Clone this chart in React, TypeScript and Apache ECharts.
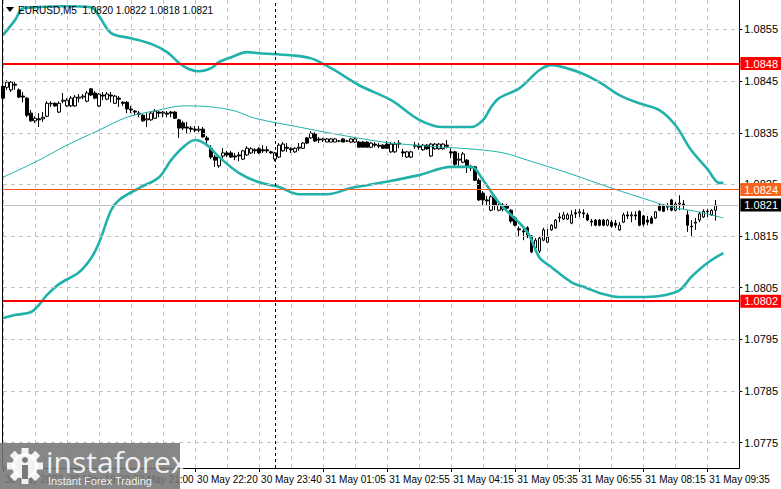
import React, { useEffect, useRef } from "react";
import * as echarts from "echarts";

// ---------- data ----------
const symbolTitle = "EURUSD,M5";
const lastBarOHLC = ["1.0820", "1.0822", "1.0818", "1.0821"];

const opens = [
  1.08440,1.08438,1.08433,1.08444,1.08433,1.08421,1.08417,1.08388,1.08373,1.08377,
  1.08377,1.08382,1.08406,1.08407,1.08390,1.08411,1.08402,1.08402,1.08402,1.08417,
  1.08419,1.08411,1.08435,1.08427,1.08402,1.08423,1.08415,1.08423,1.08407,1.08417,
  1.08409,1.08409,1.08396,1.08392,1.08388,1.08384,1.08375,1.08375,1.08378,1.08390,
  1.08388,1.08388,1.08390,1.08390,1.08375,1.08369,1.08361,1.08359,1.08357,1.08355,
  1.08357,1.08340,1.08320,1.08303,1.08286,1.08305,1.08311,1.08311,1.08305,1.08307,
  1.08299,1.08307,1.08311,1.08317,1.08319,1.08317,1.08317,1.08313,1.08299,1.08303,
  1.08315,1.08322,1.08319,1.08313,1.08320,1.08320,1.08340,1.08340,1.08348,1.08338,
  1.08336,1.08332,1.08332,1.08332,1.08334,1.08338,1.08334,1.08332,1.08332,1.08332,
  1.08332,1.08332,1.08322,1.08328,1.08326,1.08326,1.08328,1.08313,1.08313,1.08330,
  1.08313,1.08303,1.08303,1.08324,1.08324,1.08317,1.08326,1.08305,1.08319,1.08319,
  1.08319,1.08326,1.08313,1.08313,1.08297,1.08293,1.08297,1.08284,1.08284,1.08258,
  1.08233,1.08220,1.08200,1.08224,1.08200,1.08202,1.08208,1.08200,1.08185,1.08164,
  1.08160,1.08166,1.08150,1.08127,1.08121,1.08142,1.08138,1.08162,1.08166,1.08185,
  1.08183,1.08183,1.08175,1.08195,1.08195,1.08195,1.08191,1.08179,1.08181,1.08181,
  1.08181,1.08171,1.08177,1.08175,1.08162,1.08177,1.08191,1.08189,1.08191,1.08198,
  1.08189,1.08181,1.08185,1.08185,1.08210,1.08210,1.08206,1.08220,1.08200,1.08212,
  1.08212,1.08191,1.08169,1.08175,1.08181,1.08187,1.08197,1.08191,1.08200,
];
const closes = [
  1.08417,1.08448,1.08448,1.08442,1.08419,1.08419,1.08384,1.08373,1.08378,1.08375,
  1.08380,1.08407,1.08407,1.08402,1.08407,1.08413,1.08413,1.08417,1.08419,1.08419,
  1.08421,1.08427,1.08423,1.08417,1.08425,1.08421,1.08425,1.08421,1.08421,1.08415,
  1.08407,1.08396,1.08394,1.08390,1.08386,1.08373,1.08377,1.08388,1.08392,1.08388,
  1.08390,1.08386,1.08388,1.08378,1.08359,1.08359,1.08359,1.08357,1.08355,1.08357,
  1.08342,1.08336,1.08303,1.08297,1.08303,1.08311,1.08307,1.08303,1.08303,1.08305,
  1.08315,1.08320,1.08319,1.08315,1.08311,1.08315,1.08315,1.08311,1.08311,1.08326,
  1.08328,1.08320,1.08317,1.08320,1.08322,1.08330,1.08330,1.08349,1.08334,1.08336,
  1.08338,1.08338,1.08338,1.08338,1.08334,1.08332,1.08334,1.08338,1.08338,1.08322,
  1.08322,1.08322,1.08330,1.08326,1.08324,1.08320,1.08320,1.08328,1.08328,1.08328,
  1.08311,1.08313,1.08313,1.08326,1.08322,1.08326,1.08319,1.08328,1.08328,1.08328,
  1.08328,1.08324,1.08311,1.08289,1.08299,1.08309,1.08284,1.08282,1.08258,1.08220,
  1.08220,1.08218,1.08226,1.08210,1.08210,1.08210,1.08204,1.08179,1.08171,1.08162,
  1.08158,1.08152,1.08119,1.08142,1.08146,1.08162,1.08148,1.08171,1.08181,1.08187,
  1.08191,1.08191,1.08191,1.08193,1.08197,1.08193,1.08181,1.08177,1.08171,1.08171,
  1.08171,1.08181,1.08169,1.08171,1.08171,1.08191,1.08189,1.08191,1.08189,1.08171,
  1.08173,1.08177,1.08175,1.08197,1.08200,1.08198,1.08208,1.08200,1.08212,1.08214,
  1.08210,1.08171,1.08168,1.08177,1.08193,1.08198,1.08198,1.08200,1.08210,
];
const lows = [
  1.08400,1.08433,1.08429,1.08433,1.08417,1.08409,1.08380,1.08371,1.08369,1.08361,
  1.08371,1.08380,1.08400,1.08400,1.08388,1.08407,1.08400,1.08400,1.08400,1.08409,
  1.08415,1.08409,1.08421,1.08415,1.08400,1.08413,1.08413,1.08409,1.08406,1.08400,
  1.08402,1.08388,1.08388,1.08384,1.08380,1.08371,1.08361,1.08373,1.08377,1.08380,
  1.08380,1.08380,1.08380,1.08377,1.08340,1.08355,1.08349,1.08351,1.08351,1.08351,
  1.08340,1.08328,1.08299,1.08284,1.08282,1.08301,1.08303,1.08301,1.08297,1.08295,
  1.08297,1.08305,1.08309,1.08309,1.08309,1.08311,1.08311,1.08309,1.08295,1.08301,
  1.08313,1.08313,1.08311,1.08311,1.08315,1.08319,1.08328,1.08338,1.08332,1.08330,
  1.08332,1.08332,1.08332,1.08332,1.08332,1.08332,1.08332,1.08330,1.08330,1.08322,
  1.08322,1.08322,1.08320,1.08322,1.08320,1.08319,1.08319,1.08311,1.08311,1.08320,
  1.08303,1.08301,1.08301,1.08319,1.08317,1.08315,1.08317,1.08303,1.08317,1.08317,
  1.08317,1.08320,1.08301,1.08286,1.08284,1.08291,1.08272,1.08276,1.08257,1.08218,
  1.08210,1.08208,1.08198,1.08200,1.08198,1.08198,1.08197,1.08175,1.08169,1.08148,
  1.08142,1.08146,1.08117,1.08123,1.08117,1.08140,1.08137,1.08160,1.08164,1.08177,
  1.08181,1.08181,1.08173,1.08185,1.08187,1.08185,1.08179,1.08169,1.08169,1.08169,
  1.08169,1.08169,1.08166,1.08166,1.08160,1.08175,1.08183,1.08177,1.08181,1.08169,
  1.08169,1.08171,1.08173,1.08183,1.08198,1.08197,1.08200,1.08198,1.08198,1.08200,
  1.08202,1.08158,1.08148,1.08162,1.08177,1.08185,1.08187,1.08189,1.08180,
];
const highs = [
  1.08446,1.08452,1.08450,1.08450,1.08436,1.08429,1.08419,1.08394,1.08382,1.08388,
  1.08390,1.08411,1.08411,1.08409,1.08411,1.08427,1.08417,1.08421,1.08423,1.08425,
  1.08425,1.08431,1.08436,1.08431,1.08427,1.08429,1.08429,1.08429,1.08423,1.08421,
  1.08411,1.08411,1.08402,1.08394,1.08392,1.08386,1.08388,1.08392,1.08396,1.08392,
  1.08392,1.08392,1.08392,1.08392,1.08377,1.08373,1.08371,1.08363,1.08363,1.08363,
  1.08361,1.08344,1.08326,1.08307,1.08307,1.08320,1.08315,1.08315,1.08311,1.08313,
  1.08317,1.08324,1.08322,1.08320,1.08322,1.08326,1.08324,1.08315,1.08313,1.08330,
  1.08332,1.08330,1.08322,1.08322,1.08330,1.08332,1.08342,1.08353,1.08351,1.08342,
  1.08340,1.08340,1.08340,1.08340,1.08336,1.08340,1.08336,1.08340,1.08340,1.08334,
  1.08334,1.08334,1.08332,1.08332,1.08330,1.08328,1.08334,1.08332,1.08332,1.08336,
  1.08319,1.08315,1.08315,1.08332,1.08330,1.08328,1.08328,1.08330,1.08330,1.08330,
  1.08330,1.08336,1.08320,1.08315,1.08311,1.08313,1.08299,1.08288,1.08286,1.08262,
  1.08237,1.08228,1.08229,1.08226,1.08214,1.08214,1.08212,1.08202,1.08189,1.08169,
  1.08168,1.08169,1.08152,1.08146,1.08150,1.08166,1.08164,1.08173,1.08183,1.08195,
  1.08197,1.08195,1.08200,1.08202,1.08202,1.08202,1.08195,1.08183,1.08183,1.08183,
  1.08183,1.08183,1.08181,1.08181,1.08177,1.08195,1.08198,1.08197,1.08198,1.08200,
  1.08191,1.08189,1.08189,1.08198,1.08212,1.08212,1.08214,1.08222,1.08216,1.08229,
  1.08220,1.08200,1.08181,1.08185,1.08197,1.08202,1.08202,1.08202,1.08220,
];

// Bollinger bands (thick) and moving average (thin), sampled as [bar index, price]
const upperBand: [number, number][] = [
  [0,1.08539],[3,1.08568],[5,1.08591],[8,1.08593],[15,1.08595],[22,1.08593],[24,1.08576],
  [27,1.08543],[32,1.08533],[37,1.08522],[41,1.08506],[44,1.08485],[46,1.08475],[49,1.08469],
  [52,1.08475],[54,1.08487],[57,1.08496],[61,1.08506],[64,1.08504],[72,1.08500],[77,1.08494],
  [82,1.08475],[89,1.08442],[97,1.08413],[104,1.08375],[110,1.08361],[117,1.08361],[120,1.08375],
  [122,1.08400],[124,1.08417],[129,1.08436],[134,1.08471],[137,1.08481],[139,1.08479],[144,1.08467],
  [149,1.08448],[154,1.08423],[159,1.08407],[164,1.08394],[168,1.08365],[172,1.08316],[176,1.08280],
  [179,1.08253],[180,1.08253],
];
const lowerBand: [number, number][] = [
  [0,1.07991],[3,1.07997],[7,1.08003],[9,1.08017],[11,1.08036],[14,1.08057],[19,1.08080],
  [22,1.08107],[24,1.08137],[27,1.08200],[29,1.08220],[34,1.08243],[39,1.08264],[42,1.08297],
  [45,1.08322],[48,1.08336],[51,1.08326],[54,1.08303],[59,1.08272],[64,1.08254],[69,1.08245],
  [74,1.08231],[81,1.08231],[87,1.08243],[95,1.08254],[104,1.08268],[112,1.08284],[117,1.08284],
  [120,1.08258],[124,1.08214],[131,1.08158],[134,1.08109],[137,1.08090],[142,1.08061],[146,1.08049],
  [149,1.08040],[154,1.08032],[159,1.08032],[164,1.08034],[169,1.08045],[172,1.08071],[176,1.08098],
  [180,1.08117],
];
const movingAverage: [number, number][] = [
  [0,1.08264],[8,1.08293],[16,1.08326],[24,1.08355],[31,1.08380],[39,1.08394],[45,1.08402],
  [52,1.08400],[58,1.08392],[63,1.08378],[74,1.08361],[82,1.08349],[95,1.08332],[103,1.08326],
  [110,1.08322],[118,1.08318],[125,1.08311],[131,1.08297],[142,1.08270],[152,1.08243],[162,1.08218],
  [167,1.08206],[173,1.08198],[180,1.08185],
];

const timeTickLabels = [
  "30 May 2023", "30 May 19:40", "30 May 21:00", "30 May 22:20", "30 May 23:40",
  "31 May 01:05", "31 May 02:55", "31 May 04:15", "31 May 05:35", "31 May 06:55",
  "31 May 08:15", "31 May 09:35",
];
const priceTicks = [1.0775, 1.0785, 1.0795, 1.0805, 1.0815, 1.0825, 1.0835, 1.0845, 1.0855];

const levelPrices = [1.08484, 1.08024, 1.0824, 1.0821];
const levelLabels = ["1.0848", "1.0802", "1.0824", "1.0821"];
const daySeparatorIndex = 68;

// ---------- layout constants ----------
const SLOT_COUNT = 185; // bar slots across the plot (incl. empty right margin)
const LABEL_EVERY = 16;
const GRID_EVERY = 8;
const FONT = "'Liberation Sans', Arial, sans-serif";

export default function App() {
  const ref = useRef<HTMLDivElement>(null);

  useEffect(() => {
    if (!ref.current) return;
    const chart = echarts.init(ref.current, undefined, { renderer: "svg" });

    const categories = Array.from({ length: SLOT_COUNT }, (_, i) => String(i));
    const candles = opens.map((o, i) => [o, closes[i], lows[i], highs[i]]);

    const levelStyles = [
      { line: { color: "#ff0000", width: 2, type: "solid" }, bg: "#ff0000" },
      { line: { color: "#ff0000", width: 2, type: "solid" }, bg: "#ff0000" },
      { line: { color: "#f4561c", width: 1, type: "solid" }, bg: "#f7631d" },
      { line: { color: "#c0c0c0", width: 1, type: "solid" }, bg: "#000000" },
    ];

    const teeth = Array.from({ length: 8 }, (_, k) => ({
      type: "rect",
      x: 25,
      y: 466,
      rotation: (k * Math.PI) / 4,
      shape: { x: -3.5, y: -18, width: 7, height: 8 },
      style: { fill: "rgba(255,255,255,0.9)" },
      z: 101,
    }));

    const option: any = {
      animation: false,
      backgroundColor: "#ffffff",
      grid: { left: 3, right: 40, top: 0, bottom: 21, containLabel: false },
      xAxis: {
        type: "category",
        data: categories,
        boundaryGap: false,
        axisLine: { show: true, lineStyle: { color: "#000", width: 1 } },
        axisTick: {
          show: true,
          interval: (i: number) => i % LABEL_EVERY === 0,
          length: 4,
          lineStyle: { color: "#000" },
        },
        axisLabel: {
          interval: (i: number) => i % LABEL_EVERY === 0,
          formatter: (_v: string, i: number) => timeTickLabels[i / LABEL_EVERY] ?? "",
          align: "left",
          fontSize: 10,
          color: "#000",
          fontFamily: FONT,
          margin: 6,
          padding: [0, 0, 0, 2],
        },
        splitLine: {
          show: true,
          interval: (i: number) => i % GRID_EVERY === 0,
          lineStyle: { color: "#c4c4c4", type: [4, 4], width: 1 },
        },
      },
      yAxis: {
        type: "value",
        position: "right",
        min: 1.07701,
        max: 1.08607,
        axisLine: { show: true, lineStyle: { color: "#000", width: 1 } },
        axisTick: { show: true, length: 3, customValues: priceTicks, lineStyle: { color: "#000" } },
        axisLabel: {
          customValues: priceTicks,
          formatter: (v: number) => v.toFixed(4),
          fontSize: 11,
          color: "#000",
          fontFamily: FONT,
          margin: 5,
        },
        splitLine: { show: false },
      },
      series: [
        {
          name: "grid",
          type: "line",
          data: movingAverage,
          showSymbol: false,
          lineStyle: { opacity: 0, width: 0 },
          z: 1,
          silent: true,
          markLine: {
            silent: true,
            precision: 6,
            symbol: ["none", "none"],
            label: { show: false },
            lineStyle: { color: "#c4c4c4", type: [4, 4], width: 1 },
            data: [
              ...priceTicks.map((v) => ({ yAxis: v })),
              { xAxis: daySeparatorIndex, lineStyle: { color: "#000", type: [3, 3], width: 1 } },
            ],
          },
        },
        {
          name: "EURUSD",
          type: "candlestick",
          data: candles,
          barWidth: 3,
          z: 3,
          itemStyle: {
            color: "#ffffff",
            color0: "#000000",
            borderColor: "#000000",
            borderColor0: "#000000",
            borderWidth: 1,
          },
        },
        {
          name: "upper",
          type: "line",
          data: upperBand,
          smooth: 0.35,
          showSymbol: false,
          z: 4,
          lineStyle: { color: "#20b2aa", width: 2.6 },
        },
        {
          name: "lower",
          type: "line",
          data: lowerBand,
          smooth: 0.35,
          showSymbol: false,
          z: 4,
          lineStyle: { color: "#20b2aa", width: 2.6 },
        },
        {
          name: "ma",
          type: "line",
          data: movingAverage,
          smooth: 0.35,
          showSymbol: false,
          z: 4,
          lineStyle: { color: "#20b2aa", width: 1 },
          markLine: {
            silent: true,
            precision: 6,
            symbol: ["none", "none"],
            data: levelPrices.map((p, k) => ({
              yAxis: p,
              lineStyle: levelStyles[k].line,
              label: {
                show: true,
                position: "end",
                distance: 1,
                formatter: () => levelLabels[k],
                color: "#ffffff",
                backgroundColor: levelStyles[k].bg,
                fontSize: 11,
                fontFamily: FONT,
                padding: [1, 4, 0, 4],
                lineHeight: 12,
              },
            })),
          },
        },
      ],
      graphic: [
        {
          type: "line",
          shape: { x1: 2.5, y1: 0, x2: 2.5, y2: 468 },
          style: { stroke: "#000", lineWidth: 1 },
          z: 50,
        },
        {
          type: "polygon",
          shape: { points: [[6, 7], [14, 7], [10, 12]] },
          style: { fill: "#000" },
          z: 50,
        },
        {
          type: "text",
          x: 18,
          y: 10,
          style: {
            text: `${symbolTitle}  ${lastBarOHLC.join(" ")}`,
            font: `10px ${FONT}`,
            fill: "#000",
            align: "left",
            verticalAlign: "middle",
          },
          z: 50,
        },
        {
          type: "rect",
          shape: { x: 0, y: 443, width: 180, height: 46 },
          style: { fill: "rgba(118,118,118,0.88)" },
          z: 100,
        },
        ...teeth,
        {
          type: "circle",
          shape: { cx: 25, cy: 466, r: 13 },
          style: { fill: "rgba(255,255,255,0.9)" },
          z: 101,
        },
        {
          type: "circle",
          shape: { cx: 25, cy: 460, r: 3 },
          style: { fill: "#7a7a7a" },
          z: 102,
        },
        {
          type: "rect",
          shape: { x: 22, y: 465, width: 6, height: 14 },
          style: { fill: "#7a7a7a" },
          z: 102,
        },
        {
          type: "text",
          x: 46,
          y: 461,
          style: {
            text: "instaforex",
            font: `30px 'Open Sans', sans-serif`,
            fill: "rgba(255,255,255,0.9)",
            align: "left",
            verticalAlign: "middle",
          },
          z: 103,
        },
        {
          type: "text",
          x: 48,
          y: 481,
          style: {
            text: "Instant Forex Trading",
            font: `11px ${FONT}`,
            fill: "rgba(255,255,255,0.9)",
            align: "left",
            verticalAlign: "middle",
          },
          z: 103,
        },
      ],
    };

    chart.setOption(option);
    return () => chart.dispose();
  }, []);

  return (
    <div
      ref={ref}
      style={{ position: "fixed", left: 0, top: 0, width: 781, height: 489, background: "#fff" }}
    />
  );
}
